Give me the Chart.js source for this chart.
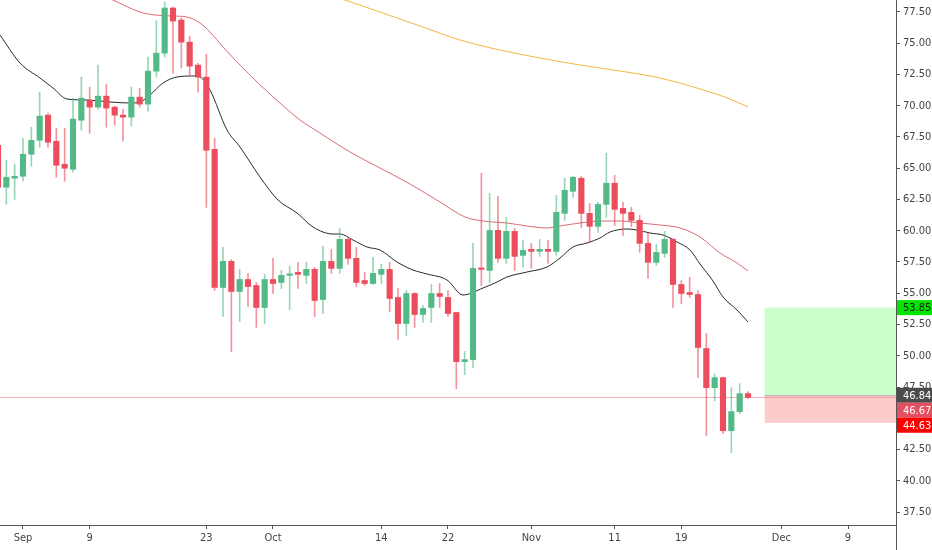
<!DOCTYPE html>
<html><head><meta charset="utf-8">
<script src="https://cdn.jsdelivr.net/npm/chart.js@4.4.0/dist/chart.umd.min.js"></script>
<style>html,body{margin:0;padding:0;background:#fff;}#wrap{width:932px;height:550px;position:relative;}</style>
</head><body><div id="wrap"><canvas id="c"></canvas></div>
<script>
// Day index counted from Sep 1 (0 = Sep 1), one daily candle each
const dayIndex = [-3,-2,-1,0,1,2,3,4,5,6,7,8,9,10,11,12,13,14,15,16,17,18,19,20,21,22,23,24,25,26,27,28,29,30,31,32,33,34,35,36,37,38,39,40,41,42,43,44,45,46,47,48,49,50,51,52,53,54,55,56,57,58,59,60,61,62,63,64,65,66,67,68,69,70,71,72,73,74,75,76,77,78,79,80,81,82,83,84,85,86,87];
const opens  = [66.84,63.48,64.20,64.36,66.12,67.24,69.25,67.16,65.32,64.92,68.84,70.45,69.89,70.77,69.89,69.25,69.09,70.69,70.13,72.77,74.21,77.82,76.86,75.09,73.25,72.29,66.52,55.46,57.55,55.14,56.10,55.62,53.86,56.10,55.86,56.43,56.67,56.43,56.91,54.50,57.55,56.99,59.31,57.79,56.02,55.78,56.51,56.91,54.66,52.58,54.98,53.30,53.86,54.98,54.66,53.46,49.53,49.69,56.99,56.83,60.03,57.79,59.95,58.03,58.51,58.35,58.51,58.35,61.39,63.16,64.20,61.39,60.35,62.11,63.80,61.79,61.47,60.83,58.99,57.47,58.19,59.31,55.70,55.06,54.90,50.58,47.45,48.25,44.00,45.53,46.97];
const highs  = [67.00,65.64,65.32,67.40,68.28,71.09,69.41,68.20,68.20,70.61,72.29,71.49,73.25,71.73,69.97,69.73,71.49,71.41,73.89,76.80,78.30,77.90,77.02,75.58,73.40,74.13,67.40,58.67,57.70,56.91,56.59,55.86,56.51,57.79,56.83,57.15,57.47,57.47,57.07,58.75,58.51,60.19,59.47,58.67,56.67,57.87,57.31,57.47,55.38,55.22,55.05,54.02,55.70,55.78,55.22,53.50,50.34,58.99,64.60,62.99,62.75,61.07,60.19,59.23,58.99,59.31,59.23,62.83,64.20,64.36,64.36,62.19,62.27,66.20,64.44,62.27,61.87,61.23,59.79,58.91,59.95,59.39,56.02,56.27,55.22,51.78,48.57,48.30,47.45,47.77,47.13];
const lows   = [62.50,62.11,62.51,63.96,65.16,66.68,66.68,64.28,63.96,64.68,68.04,67.80,69.73,68.28,68.44,67.16,68.36,69.89,69.57,72.29,73.89,72.61,73.01,72.45,71.09,61.87,55.22,53.14,50.34,52.74,53.94,52.26,52.58,54.98,55.38,53.70,55.38,55.78,53.14,53.38,56.59,56.59,57.31,55.54,55.62,55.70,55.78,53.54,51.30,51.62,52.26,52.66,52.66,53.86,53.14,47.37,48.49,49.05,55.62,55.86,57.47,57.39,56.83,57.07,56.99,57.95,57.39,58.03,60.83,62.67,60.27,59.07,59.87,61.07,60.43,59.63,60.35,58.27,56.19,57.23,57.87,53.86,54.18,54.66,48.25,43.60,46.41,43.76,42.24,45.37,46.57];
const closes = [63.48,64.28,64.36,66.12,67.24,69.17,67.08,65.24,65.00,68.93,70.61,69.89,70.77,69.81,69.25,69.09,70.69,70.13,72.77,74.21,77.82,76.78,75.09,73.17,72.29,66.44,55.46,57.55,55.14,56.10,55.54,53.86,56.10,55.78,56.43,56.51,56.51,56.91,54.42,57.55,56.99,59.31,57.79,55.86,55.78,56.59,56.91,54.58,52.58,54.98,53.30,53.78,54.98,54.74,53.38,49.53,49.69,56.99,56.91,60.03,57.79,59.95,57.95,58.43,58.35,58.51,58.35,61.47,63.24,64.28,61.39,60.35,62.11,63.80,61.71,61.39,60.83,58.99,57.47,58.27,59.31,55.70,54.98,54.90,50.66,47.45,48.25,44.00,45.53,46.97,46.67];

// Moving averages: [day, value]
const maFastDays = [-2.76,-0.36,2.04,3.6,5.28,7.68,10.44,12.84,14.04,15.24,16.8,18.48,20.4,21.24,22.44,24.48,26.04,28.44,30.6,32.88,34.8,37.2,38.04,39.6,41.28,42.84,44.88,46.8,48.48,50.88,52.8,55.2,56.88,58.08,60.48,62.88,64.44,66.0,67.68,69.24,70.44,72.48,73.68,75.24,76.8,78.48,80.04,81.24,82.8,84.0,85.68,87.0];
const maFastVals = [75.66,73.42,72.22,71.42,70.54,70.46,70.30,70.22,70.30,70.86,71.82,72.30,72.38,72.30,71.26,68.06,66.70,64.30,62.46,61.42,60.30,59.74,59.74,59.26,58.70,58.46,57.50,56.86,56.54,56.06,54.86,55.42,55.90,56.30,56.70,57.10,57.82,58.70,59.02,59.42,59.90,60.14,60.06,59.82,59.66,59.10,58.46,57.34,55.98,54.70,53.66,52.70];
const maMidDays = [9.24,10.8,14.04,15.84,18.0,19.68,21.24,22.44,24.0,26.04,28.08,30.84,33.24,35.64,39.24,42.84,46.44,50.04,53.04,55.2,58.08,60.48,62.88,64.44,66.84,69.24,71.64,74.04,76.44,78.84,81.24,83.64,85.68,87.0];
const maMidVals = [78.94,78.46,77.50,77.26,77.18,77.10,76.62,75.90,74.70,73.26,71.90,70.22,68.86,67.82,66.30,65.02,63.74,62.30,61.10,60.78,60.62,60.38,60.22,60.38,60.62,60.78,60.78,60.62,60.46,60.22,59.50,58.22,57.42,56.78];
const maSlowDays = [36.84,38.64,42.84,47.64,52.44,57.24,62.04,66.84,71.64,76.44,81.24,84.84,87.0];
const maSlowVals = [78.86,78.46,77.50,76.38,75.26,74.46,73.82,73.26,72.78,72.22,71.34,70.54,69.90];

// Axis ticks
const xTickDays   = [0,8,22,30,43,51,61,71,79,91,99];
const xTickLabels = ['Sep','9','23','Oct','14','22','Nov','11','19','Dec','9'];
const yTickValues = [37.5,40,42.5,45,47.5,50,52.5,55,57.5,60,62.5,65,67.5,70,72.5,75,77.5];

// Position tool (long) and last price
const positionStartDay = 89;
const entryPrice = 46.84, targetPrice = 53.85, stopPrice = 44.63;
const lastPrice = 46.67;

const UP = '#53b987', DOWN = '#eb4d5c';
const UPW = 'rgba(83,185,135,0.6)', DOWNW = 'rgba(235,77,92,0.6)';
const FONT = "'Liberation Sans Narrow','DejaVu Sans Condensed','Liberation Sans',sans-serif";

const upIdx = [], dnIdx = [];
dayIndex.forEach((d,i)=>{ (closes[i] >= opens[i] ? upIdx : dnIdx).push(i); });
const wick = idx => idx.map(i=>({x:dayIndex[i], y:[lows[i], highs[i]]}));
const body = idx => idx.map(i=>({x:dayIndex[i], y:[opens[i], closes[i]]}));
const pts = (ds, vs) => ds.map((d,i)=>({x:d, y:vs[i]}));

const overlay = {
  id:'overlay',
  beforeDatasetsDraw(chart){
    const {ctx, chartArea:a, scales:{x,y}} = chart;
    ctx.save();
    const x0 = x.getPixelForValue(positionStartDay), x1 = a.right;
    const yT = y.getPixelForValue(targetPrice), yE = y.getPixelForValue(entryPrice), yS = y.getPixelForValue(stopPrice);
    ctx.fillStyle = 'rgba(160,255,160,0.55)';
    ctx.fillRect(x0, yT, x1-x0, yE-yT);
    ctx.fillStyle = 'rgba(250,170,170,0.6)';
    ctx.fillRect(x0, yE, x1-x0, yS-yE);
    ctx.strokeStyle = 'rgba(140,140,140,0.5)'; ctx.lineWidth = 1;
    ctx.beginPath(); ctx.moveTo(x0, Math.round(yE)+0.5); ctx.lineTo(x1, Math.round(yE)+0.5); ctx.stroke();
    const yl = Math.round(y.getPixelForValue(lastPrice))+0.5;
    ctx.strokeStyle = 'rgba(235,77,92,0.45)';
    ctx.beginPath(); ctx.moveTo(a.left, yl); ctx.lineTo(a.right, yl); ctx.stroke();
    ctx.restore();
  },
  afterDraw(chart){
    const {ctx, chartArea:a, scales:{y}} = chart;
    ctx.save();
    ctx.strokeStyle = '#555'; ctx.lineWidth = 1;
    ctx.beginPath(); ctx.moveTo(Math.round(a.right)+0.5, a.bottom); ctx.lineTo(Math.round(a.right)+0.5, chart.height); ctx.stroke();
    const labels = [
      {v:targetPrice, bg:'#00e400', fg:'#1a1a1a'},
      {v:entryPrice, bg:'#4b4b4b', fg:'#ffffff'},
      {v:lastPrice, bg:'#e4505f', fg:'#ffffff'},
      {v:stopPrice, bg:'#ff0000', fg:'#ffffff'}
    ];
    const h = 15; let prevBottom = -1e9;
    ctx.font = '11px ' + FONT; ctx.textBaseline = 'middle'; ctx.textAlign = 'left';
    labels.forEach(l=>{
      let top = y.getPixelForValue(l.v) - h/2;
      if (top < prevBottom) top = prevBottom;
      prevBottom = top + h;
      ctx.fillStyle = l.bg;
      ctx.fillRect(a.right+1, top, chart.width - a.right - 1, h);
      ctx.fillStyle = l.fg;
      ctx.fillText(l.v.toFixed(2), a.right + 7, top + h/2 + 0.5);
    });
    ctx.restore();
  }
};

new Chart(document.getElementById('c'), {
  type:'bar',
  data:{ datasets:[
    {type:'line', data:pts(maSlowDays,maSlowVals), borderColor:'rgba(245,166,35,0.85)', borderWidth:1, pointRadius:0, cubicInterpolationMode:'monotone', order:5},
    {type:'line', data:pts(maMidDays,maMidVals), borderColor:'rgba(205,60,70,0.75)', borderWidth:1, pointRadius:0, cubicInterpolationMode:'monotone', order:4},
    {type:'line', data:pts(maFastDays,maFastVals), borderColor:'rgba(20,20,20,0.9)', borderWidth:1, pointRadius:0, cubicInterpolationMode:'monotone', order:3},
    {data:wick(upIdx), backgroundColor:UPW, barThickness:1, grouped:false, order:2},
    {data:wick(dnIdx), backgroundColor:DOWNW, barThickness:1, grouped:false, order:2},
    {data:body(upIdx), backgroundColor:UP, barThickness:5.5, minBarLength:1.5, grouped:false, order:1},
    {data:body(dnIdx), backgroundColor:DOWN, barThickness:5.5, minBarLength:1.5, grouped:false, order:1}
  ]},
  plugins:[overlay],
  options:{
    responsive:true, maintainAspectRatio:false, animation:false,
    layout:{padding:0},
    plugins:{legend:{display:false}, tooltip:{enabled:false}},
    scales:{
      x:{ type:'linear', min:-2.76, max:104.76, offset:false,
        afterBuildTicks:s=>{ s.ticks = xTickDays.map(v=>({value:v})); },
        afterFit:s=>{ s.height = 25; s.paddingLeft = 0; s.paddingRight = 0; },
        grid:{drawOnChartArea:false, offset:false, tickLength:4, color:'#555'},
        border:{display:true, color:'#555'},
        ticks:{ autoSkip:false, maxRotation:0, padding:3, color:'#444', font:{family:FONT, size:11},
          callback:(v)=>{ const k = xTickDays.indexOf(v); return k>=0 ? xTickLabels[k] : ''; } }
      },
      y:{ position:'right', min:36.46, max:78.46,
        afterBuildTicks:s=>{ s.ticks = yTickValues.map(v=>({value:v})); },
        afterFit:s=>{ s.width = 36; s.paddingTop = 0; s.paddingBottom = 0; },
        grid:{drawOnChartArea:false, offset:false, tickLength:4, color:'#555'},
        border:{display:true, color:'#555'},
        ticks:{ padding:3, color:'#444', font:{family:FONT, size:11}, callback:v=>Number(v).toFixed(2) }
      }
    }
  }
});
</script></body></html>
